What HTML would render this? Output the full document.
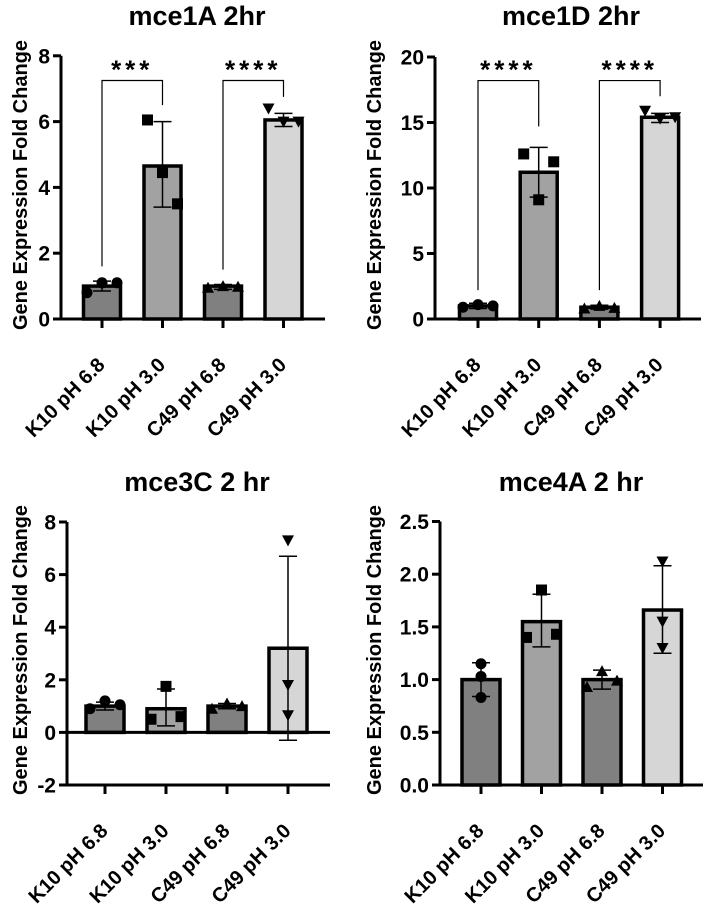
<!DOCTYPE html>
<html><head><meta charset="utf-8"><style>
html,body{margin:0;padding:0;background:#fff;width:708px;height:904px;overflow:hidden}
svg{display:block;font-family:"Liberation Sans",Arial,sans-serif;font-weight:bold}
</style></head><body>
<svg id="fig" width="708" height="904" viewBox="0 0 708 904"></svg>
<script>
const categories = ["K10 pH 6.8","K10 pH 3.0","C49 pH 6.8","C49 pH 3.0"];
const titles = ["mce1A 2hr","mce1D 2hr","mce3C 2 hr","mce4A 2 hr"];
const means1 = [1.0,4.65,1.0,6.05];
const means2 = [1.0,11.2,0.9,15.4];
const means3 = [1.0,0.9,1.0,3.2];
const means4 = [1.0,1.55,1.0,1.66];
const errLo1 = [0.85,3.4,0.9,5.85], errHi1 = [1.15,6.0,1.05,6.25];
const errLo2 = [0.8,9.3,0.75,15.0], errHi2 = [1.2,13.1,1.05,15.7];
const errLo3 = [0.85,0.25,0.9,-0.3], errHi3 = [1.15,1.65,1.1,6.7];
const errLo4 = [0.84,1.31,0.91,1.25], errHi4 = [1.16,1.81,1.09,2.08];
const pts1 = [[0.8,1.1,1.1],[6.05,4.45,3.5],[0.95,1.0,0.98],[6.4,6.0,6.0]];
const pts2 = [[0.9,1.1,1.0],[12.6,9.1,12.0],[0.8,1.0,0.85],[15.9,15.3,15.4]];
const pts3 = [[0.9,1.2,1.05],[0.5,1.75,0.6],[0.9,1.1,1.0],[7.3,1.8,0.65]];
const pts4 = [[1.15,1.03,0.83],[1.4,1.85,1.43],[0.93,1.08,0.99],[2.12,1.55,1.30]];
const ticks1 = [0,2,4,6,8], ticks2 = [0,5,10,15,20], ticks3 = [-2,0,2,4,6,8];
const ticks4 = ["0.0","0.5","1.0","1.5","2.0","2.5"];
const sig1 = ["***","****"], sig2 = ["****","****"];
const bracketTop1 = 7.25, bracketTop2 = 18.2;
const legs1 = [[1.6,6.5],[1.5,6.75]], legs2 = [[2.2,14.7],[2.2,17.0]];

const NS="http://www.w3.org/2000/svg";
const svg=document.getElementById('fig');
function mk(tag,attrs,parent){const e=document.createElementNS(NS,tag);for(const k in attrs)e.setAttribute(k,attrs[k]);(parent||svg).appendChild(e);return e;}
const fills=["#808080","#a2a2a2","#808080","#d6d6d6"];
const xoffs=[[-15,0,15],[-15,0,15],[-15,0,15],[-15,0,15]];

function panel(p){
  const g=mk('g',{});
  
  
  const y=v=>p.y0-(v-p.vmin)*p.ppu;
  const yAxisBottom=y(p.vmin), yAxisTop=y(p.vmax);
  const xAxisY=p.xAxisAt!==undefined?y(p.xAxisAt):yAxisBottom;
  const t=mk('text',{x:p.tx,y:p.ty,'text-anchor':'middle','font-size':27},g);t.textContent=p.title;
  
  const yt=mk('text',{transform:`translate(${p.ytx},${p.yty}) rotate(-90)`,'text-anchor':'middle','font-size':20},g);
  yt.textContent="Gene Expression Fold Change";
  
  const ax=mk('line',{x1:p.ax,y1:yAxisTop,x2:p.ax,y2:yAxisBottom+1.5,stroke:'#000','stroke-width':3},g);
  
  p.ticks.forEach(tv=>{const v=parseFloat(tv);const yy=y(v);
    mk('line',{x1:p.ax-8,y1:yy,x2:p.ax,y2:yy,stroke:'#000','stroke-width':3},g);
    const tl=mk('text',{x:p.ax-11,y:yy+7.5,'text-anchor':'end','font-size':21},g);tl.textContent=tv;
    
  });
  const zeroY=y(0);
  p.means.forEach((m,i)=>{const cx=p.cx0+i*p.dx;
    const b=mk('rect',{x:cx-p.bw/2,y:Math.min(y(m),zeroY),width:p.bw,height:Math.abs(zeroY-y(m)),fill:fills[i],stroke:'#000','stroke-width':3.5},g);
    
  });
  const xl=mk('line',{x1:p.ax-1.5,y1:xAxisY,x2:p.axEnd,y2:xAxisY,stroke:'#000','stroke-width':3},g);
  
  if(p.xAxisAt!==undefined && p.vmin<0){mk('line',{x1:p.ax,y1:zeroY,x2:p.axEnd,y2:zeroY,stroke:'#000','stroke-width':3},g);}
  p.means.forEach((m,i)=>{const cx=p.cx0+i*p.dx;
    const e=mk('g',{},g);
    mk('line',{x1:cx,y1:y(p.lo[i]),x2:cx,y2:y(p.hi[i]),stroke:'#000','stroke-width':1.5},e);
    mk('line',{x1:cx-9,y1:y(p.lo[i]),x2:cx+9,y2:y(p.lo[i]),stroke:'#000','stroke-width':1.5},e);
    mk('line',{x1:cx-9,y1:y(p.hi[i]),x2:cx+9,y2:y(p.hi[i]),stroke:'#000','stroke-width':1.5},e);
  });
  p.pts.forEach((arr,i)=>{const cx=p.cx0+i*p.dx;
    arr.forEach((v,j)=>{const px=cx+(p.ptOff?p.ptOff[i][j]:xoffs[i][j]);const py=y(v);let s;
      if(i===0)s=mk('circle',{cx:px,cy:py,r:5.5,fill:'#000'},g);
      else if(i===1)s=mk('rect',{x:px-5.5,y:py-5.5,width:11,height:11,fill:'#000'},g);
      else if(i===2)s=mk('polygon',{points:`${px-6},${py+5} ${px+6},${py+5} ${px},${py-6}`,fill:'#000'},g);
      else s=mk('polygon',{points:`${px-6},${py-5} ${px+6},${py-5} ${px},${py+6}`,fill:'#000'},g);
      
    });
  });
  categories.forEach((c,i)=>{const cx=p.cx0+i*p.dx;
    mk('line',{x1:cx,y1:xAxisY,x2:cx,y2:xAxisY+9,stroke:'#000','stroke-width':3},g);
    const l=mk('text',{transform:`translate(${cx+4},${xAxisY+47}) rotate(-45)`,'text-anchor':'end','font-size':20},g);
    l.textContent=c;
  });
  if(p.sig){p.sig.forEach((s,k)=>{const a=p.cx0+(2*k)*p.dx,b=p.cx0+(2*k+1)*p.dx;const top=y(p.btop);
    const br=mk('g',{},g);
    mk('polyline',{points:`${a},${y(p.legs[k][0])} ${a},${top} ${b},${top} ${b},${y(p.legs[k][1])}`,fill:'none',stroke:'#000','stroke-width':1.2},br);
    const st=mk('text',{x:(a+b)/2,y:top-2,'text-anchor':'middle','font-size':26,'letter-spacing':4},br);st.textContent=s;
  });}
}
panel({id:'mce1a',title:titles[0],tx:197,ty:25,ytx:27,yty:185,ax:61,axEnd:325,y0:319,vmin:0,vmax:8,ppu:32.9,ticks:ticks1,means:means1,lo:errLo1,hi:errHi1,pts:pts1,cx0:102,dx:60.5,bw:37,sig:sig1,btop:bracketTop1,legs:legs1});
panel({id:'mce1d',title:titles[1],tx:571,ty:25,ytx:381,yty:185,ax:435,axEnd:701,y0:319,vmin:0,vmax:20,ppu:13.1,ticks:ticks2,means:means2,lo:errLo2,hi:errHi2,pts:pts2,cx0:478,dx:60.7,bw:37,sig:sig2,btop:bracketTop2,legs:legs2});
panel({id:'mce3c',title:titles[2],tx:197,ty:491,ytx:27,yty:650,ax:67,axEnd:330,y0:785,vmin:-2,vmax:8,ppu:26.3,xAxisAt:-2,ticks:ticks3,means:means3,lo:errLo3,hi:errHi3,pts:pts3,cx0:105,dx:61,bw:38,
  ptOff:[[-15,0,15],[-15,0,15],[-15,0,15],[0,0,0]]});
panel({id:'mce4a',title:titles[3],tx:571,ty:491,ytx:381,yty:650,ax:440,axEnd:703,y0:785,vmin:0,vmax:2.5,ppu:105.4,ticks:ticks4,means:means4,lo:errLo4,hi:errHi4,pts:pts4,cx0:481,dx:60.5,bw:38,
  ptOff:[[0,0,0],[-15,0,15],[-15,0,15],[0,0,0]]});
</script>
</body></html>
